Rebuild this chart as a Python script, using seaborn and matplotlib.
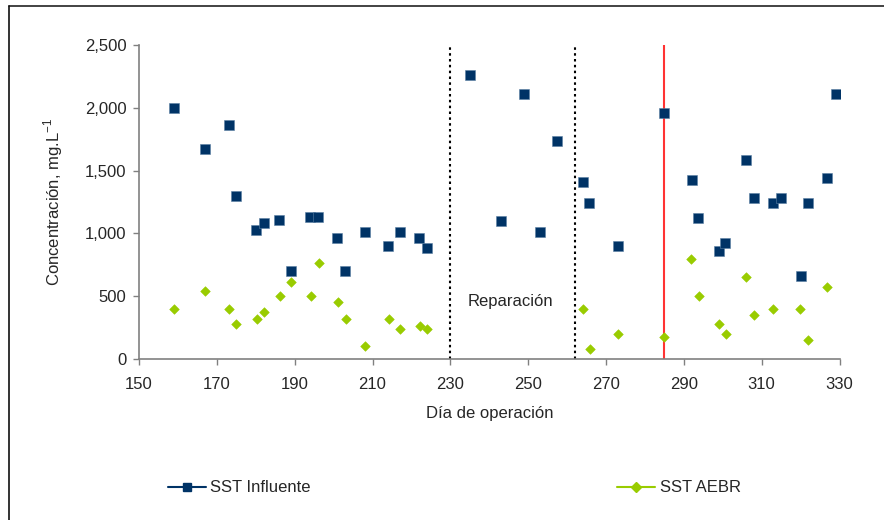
import matplotlib
matplotlib.use("Agg")
import matplotlib.pyplot as plt
import seaborn as sns
import pandas as pd
from matplotlib.lines import Line2D
from matplotlib.ticker import FuncFormatter

# Data
dia_influente = [159, 167, 173, 175, 180, 182, 186, 189, 194, 196, 201, 203, 208, 214, 217, 222, 224,
                 235, 243, 249, 253, 257.5, 264, 265.6, 273, 285, 292, 293.7, 299, 300.7, 306, 308,
                 313, 315, 320, 322, 326.7, 329]
sst_influente = [2000, 1670, 1865, 1300, 1030, 1082, 1103, 704, 1132, 1132, 966, 704, 1008, 902, 1008,
                 966, 881, 2262, 1100, 2106, 1008, 1738, 1405, 1246, 902, 1958, 1426, 1122, 860, 923,
                 1582, 1280, 1246, 1280, 661, 1246, 1444, 2106]

dia_aebr = [159, 167, 173, 175, 180.2, 182, 186.2, 189, 194.2, 196.2, 201.1, 203.2, 208.1, 214.3, 217.1,
            222.3, 224.1, 264, 265.8, 273.1, 284.9, 291.8, 293.9, 299.1, 300.8, 306.1, 308.1, 313,
            319.9, 322, 326.8]
sst_aebr = [397, 542, 397, 280, 323, 373, 503, 616, 503, 762, 458, 323, 103, 323, 238, 262, 238,
            397, 79, 198, 180, 794, 500, 280, 198, 656, 354, 397, 397, 153, 574]

lineas_reparacion = [230, 262]
linea_roja = 285
x_ticks = list(range(150, 331, 20))
y_ticks = list(range(0, 2501, 500))

sns.set_style("ticks")
plt.rcParams['font.family'] = ['Liberation Sans', 'DejaVu Sans']
plt.rcParams['mathtext.fontset'] = 'custom'
plt.rcParams['mathtext.rm'] = 'Liberation Sans'
FS = 12

fig = plt.figure(figsize=(8.84, 5.20), dpi=100)
ax = fig.add_axes([139/884, 1 - 359.3/520, (839.5 - 139)/884, (359.3 - 44.7)/520])

blue = "#003366"
green = "#99CC00"

df_inf = pd.DataFrame({"dia": dia_influente, "sst": sst_influente})
df_aebr = pd.DataFrame({"dia": dia_aebr, "sst": sst_aebr})

sns.scatterplot(data=df_inf, x="dia", y="sst", marker="s", s=48, color=blue,
                edgecolor="#5b7fa3", linewidth=0.4, ax=ax, zorder=3)
sns.scatterplot(data=df_aebr, x="dia", y="sst", marker="D", s=24, color=green,
                edgecolor=green, linewidth=0.4, ax=ax, zorder=3)

for xv in lineas_reparacion:
    ax.axvline(xv, color="black", linestyle=(0, (1.2, 1.6)), linewidth=1.5, zorder=2)
ax.axvline(linea_roja, color="#ff3333", linewidth=1.5, zorder=2)

ax.text(245.5, 460, "Reparación", ha="center", va="center", fontsize=FS)

ax.set_xlim(150, 330)
ax.set_ylim(0, 2500)
ax.set_xticks(x_ticks)
ax.set_yticks(y_ticks)
ax.yaxis.set_major_formatter(FuncFormatter(lambda v, p: f"{int(v):,}"))
ax.tick_params(axis="both", direction="out", length=4, width=1, color="#808080",
               labelsize=FS)
ax.tick_params(axis="y", pad=5)
ax.tick_params(axis="x", pad=9)
for side in ["top", "right"]:
    ax.spines[side].set_visible(False)
for side in ["left", "bottom"]:
    ax.spines[side].set_color("#808080")
    ax.spines[side].set_linewidth(1.2)

ax.set_xlabel("Día de operación", fontsize=FS, labelpad=10)
ax.set_ylabel("Concentración, mg.L$^{\\mathregular{-1}}$", fontsize=FS, labelpad=14)

h1 = Line2D([], [], color=blue, marker="s", markersize=5.5, linewidth=1.5)
h2 = Line2D([], [], color=green, marker="D", markersize=5, linewidth=1.5)
common = dict(loc="center left", frameon=False, fontsize=FS, handlelength=2.3,
              handletextpad=0.25, borderpad=0, borderaxespad=0)
fig.legend([h1], ["SST Influente"], bbox_to_anchor=(168/884, 1 - 488/520), **common)
fig.legend([h2], ["SST AEBR"], bbox_to_anchor=(617/884, 1 - 488/520), **common)

# partial figure border (top and left only, as in the reference)
fig.add_artist(Line2D([9/884, 1], [1 - 6/520, 1 - 6/520], transform=fig.transFigure,
                      color="#222222", linewidth=1.2))
fig.add_artist(Line2D([9/884, 9/884], [0, 1 - 6/520], transform=fig.transFigure,
                      color="#111111", linewidth=1.2))

fig.savefig("out.png", dpi=100)
